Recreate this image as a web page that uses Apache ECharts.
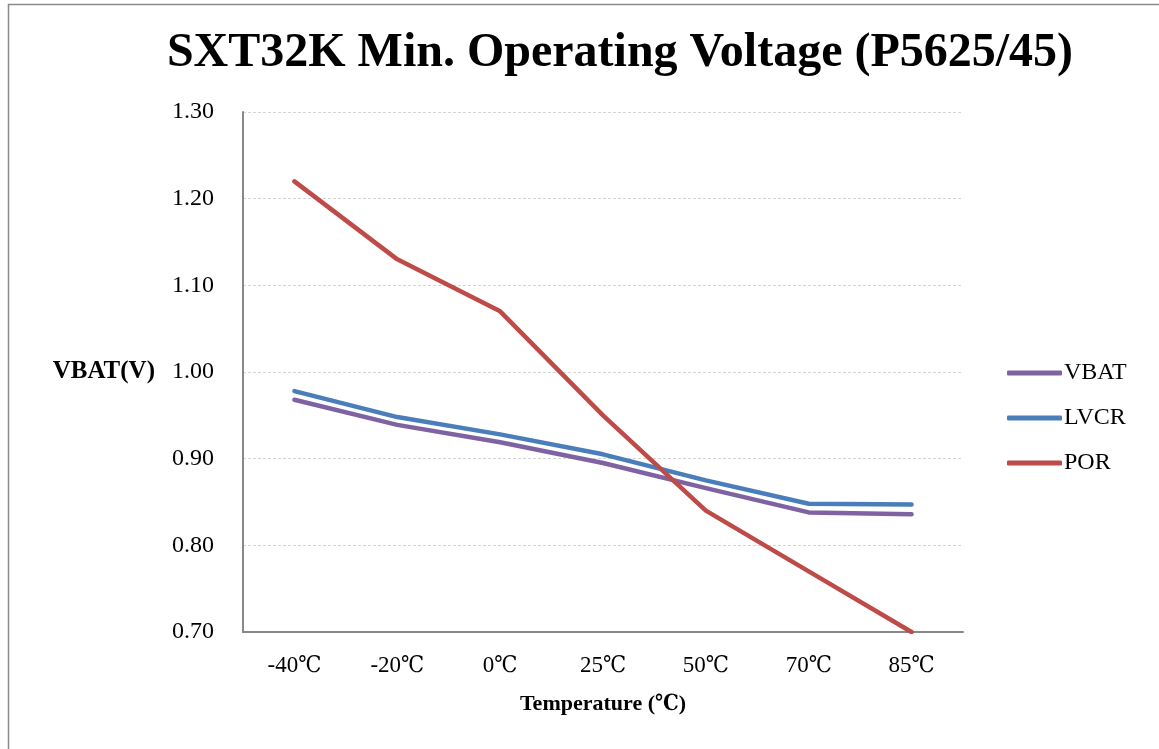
<!DOCTYPE html>
<html>
<head>
<meta charset="utf-8">
<script src="https://cdn.jsdelivr.net/npm/echarts@6/dist/echarts.min.js"></script>
<style>html,body{margin:0;padding:0;background:#fff;}#c{width:1159px;height:749px;}</style>
</head>
<body>
<div id="c"></div>
<script>
const categories = ['-40\u2103', '-20\u2103', '0\u2103', '25\u2103', '50\u2103', '70\u2103', '85\u2103'];
const vbat = [0.968, 0.939, 0.919, 0.895, 0.866, 0.838, 0.836];
const lvcr = [0.978, 0.948, 0.928, 0.905, 0.875, 0.848, 0.847];
const por  = [1.22, 1.13, 1.07, 0.95, 0.84, 0.77, 0.70];
const seriesNames = ['VBAT', 'LVCR', 'POR'];
const colors = ['#7F62A1', '#4A7EBB', '#BE4B48'];

const font = '"Liberation Serif", "DejaVu Serif Condensed", "DejaVu Serif", serif';
const chart = echarts.init(document.getElementById('c'));
const datasets = [vbat, lvcr, por];
chart.setOption({
  animation: false,
  color: colors,
  title: {
    text: 'SXT32K Min. Operating Voltage (P5625/45)',
    left: 615, textAlign: 'center', top: 25,
    textStyle: { fontFamily: font, fontWeight: 'bold', fontSize: 48, color: '#000' }
  },
  graphic: [{
    type: 'rect', left: 6, top: 2, silent: true,
    shape: { width: 1200, height: 800 },
    style: { fill: 'none', stroke: '#8a8a8a', lineWidth: 1.5 }
  }],
  legend: {
    orient: 'vertical', left: 1002, top: 356,
    itemWidth: 55, itemHeight: 5, itemGap: 21, icon: 'roundRect',
    data: seriesNames,
    textStyle: { fontFamily: font, fontSize: 24, color: '#000', padding: [0, 0, 0, -3] }
  },
  grid: { left: 243, right: 196, top: 112, bottom: 117 },
  xAxis: {
    type: 'category', data: categories, boundaryGap: true,
    name: 'Temperature (\u2103)', nameLocation: 'middle', nameGap: 61,
    nameTextStyle: { fontFamily: font, fontWeight: 'bold', fontSize: 22, color: '#000' },
    axisLine: { lineStyle: { color: '#888', width: 2 } },
    axisTick: { show: false },
    axisLabel: { fontFamily: font, fontSize: 23, color: '#000', margin: 22 }
  },
  yAxis: {
    type: 'value', min: 0.7, max: 1.3, interval: 0.1,
    name: 'VBAT(V)', nameLocation: 'middle', nameRotate: 0, nameGap: 88,
    nameTextStyle: { fontFamily: font, fontWeight: 'bold', fontSize: 25, color: '#000' },
    axisLine: { show: true, lineStyle: { color: '#888', width: 2 } },
    axisTick: { show: false },
    axisLabel: { fontFamily: font, fontSize: 24, color: '#000', margin: 29, formatter: v => v.toFixed(2) },
    splitLine: { lineStyle: { color: '#d4d4d4', width: 1, type: [3, 2] } }
  },
  series: datasets.map((d, i) => ({
    name: seriesNames[i], type: 'line', data: d, symbol: 'none',
    lineStyle: { width: 4.5, color: colors[i], cap: 'round', join: 'round' }
  }))
});
</script>
</body>
</html>
